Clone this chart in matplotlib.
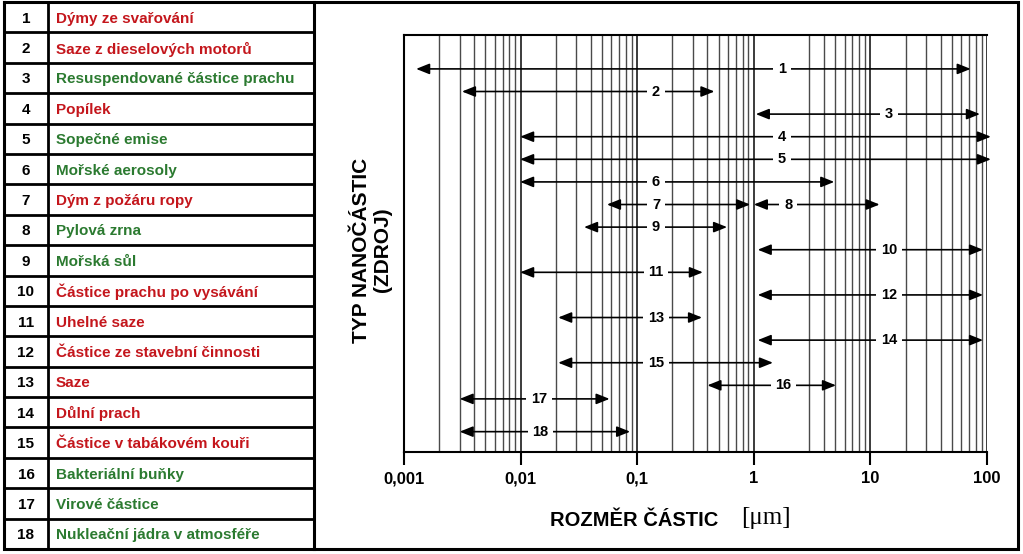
import matplotlib
matplotlib.use("Agg")
import matplotlib.pyplot as plt

# ---------------- data ----------------
numbers = list(range(1, 19))
names = [
    "Dýmy ze svařování", "Saze z dieselových motorů", "Resuspendované částice prachu",
    "Popílek", "Sopečné emise", "Mořské aerosoly", "Dým z požáru ropy", "Pylová zrna",
    "Mořská sůl", "Částice prachu po vysávání", "Uhelné saze", "Částice ze stavební činnosti",
    "Saze", "Důlní prach", "Částice v tabákovém kouři", "Bakteriální buňky",
    "Virové částice", "Nukleační jádra v atmosféře",
]
name_groups = ["r", "r", "g", "r", "g", "g", "r", "g", "g", "r", "r", "r", "r", "r", "r", "g", "g", "g"]

arrow_labels = ["1", "2", "3", "4", "5", "6", "7", "8", "9", "10", "11", "12", "13", "14", "15", "16", "17", "18"]
arrow_rows = [0, 1, 2, 3, 4, 5, 6, 6, 7, 8, 9, 10, 11, 12, 13, 14, 14.6, 16.05]
size_min = [0.00127, 0.00314, 1.04, 0.0099, 0.0099, 0.0099, 0.055, 1.0, 0.035, 1.08, 0.0099, 1.08, 0.021, 1.08, 0.021, 0.40, 0.0030, 0.0030]
size_max = [72.5, 0.46, 87, 108, 108, 4.9, 0.93, 12, 0.59, 92.5, 0.366, 92.5, 0.36, 92.5, 1.46, 5.07, 0.058, 0.087]
label_pos = [1.75, 0.145, 14.5, 1.75, 1.75, 0.145, 0.145, 1.97, 0.145, 14.5, 0.145, 14.5, 0.145, 14.5, 0.145, 1.8, 0.0144, 0.0148]

major_ticks = [0.001, 0.01, 0.1, 1, 10, 100]
major_labels = ["0,001", "0,01", "0,1", "1", "10", "100"]
grid_lines = [0.002, 0.003, 0.004, 0.005, 0.006, 0.007, 0.008, 0.009,
              0.02, 0.03, 0.04, 0.05, 0.06, 0.07, 0.08, 0.09,
              0.2, 0.3, 0.4, 0.5, 0.6, 0.7, 0.8, 0.9,
              3, 4, 5, 6, 7, 8, 9,
              20, 30, 40, 50, 60, 70, 80, 90]

RED = "#c4161c"
GREEN = "#2b7a30"
BOLD = ["Liberation Sans", "DejaVu Sans"]

W, H = 1023, 554
fig = plt.figure(figsize=(W / 100, H / 100), dpi=100)

# ---------------- frame & table (pixel coordinates) ----------------
bg = fig.add_axes([0, 0, 1, 1])
bg.set_xlim(0, W)
bg.set_ylim(H, 0)
bg.axis("off")

left, right, top, bottom = 4, 1018, 2, 549
div_x, col_x = 314, 48
bg.plot([left, right, right, left, left], [top, top, bottom, bottom, top], color="black", lw=2.2, solid_joinstyle="miter")
bg.plot([div_x, div_x], [top, bottom], color="black", lw=2.2)
bg.plot([col_x, col_x], [top, bottom], color="black", lw=2.0)
row_h = (bottom - top) / len(names)
for i in range(1, len(names)):
    y = top + i * row_h
    bg.plot([left, div_x], [y, y], color="black", lw=2.0)
for i, (n, name, g) in enumerate(zip(numbers, names, name_groups)):
    yc = top + (i + 0.55) * row_h
    bg.text(26, yc, str(n), ha="center", va="center", fontsize=11, fontweight="bold",
            family=BOLD, color="black")
    bg.text(56, yc, name, ha="left", va="center", fontsize=11, fontweight="bold",
            family=BOLD, color=RED if g == "r" else GREEN)

# axis titles
bg.text(372, 250, "TYP NANOČÁSTIC\n(ZDROJ)", rotation=90, ha="center", va="center",
        fontsize=15, fontweight="bold", family=BOLD, linespacing=1.1, multialignment="center")
bg.text(634, 520, "ROZMĚR ČÁSTIC", ha="center", va="center", fontsize=14.5,
        fontweight="bold", family=BOLD)
bg.text(766, 518, "[μm]", ha="center", va="center", fontsize=18,
        family=["Liberation Serif", "DejaVu Serif"])

# ---------------- main chart ----------------
ax_l, ax_r, ax_t, ax_b = 404, 987, 35, 452
ax = fig.add_axes([ax_l / W, (H - ax_b) / H, (ax_r - ax_l) / W, (ax_b - ax_t) / H])
ax.set_xscale("log")
ax.set_xlim(major_ticks[0], major_ticks[-1])
ax.set_ylim(16.95, -1.5)
ax.patch.set_alpha(0)

ax.vlines(grid_lines, -1.5, 16.95, colors="#4a4a4a", lw=1.0, zorder=1)
ax.vlines(major_ticks[1:], -1.5, 16.95, colors="#1a1a1a", lw=1.2, zorder=1)

for s in ["left", "top", "bottom"]:
    ax.spines[s].set_color("black")
    ax.spines[s].set_linewidth(1.5)
ax.spines["right"].set_visible(False)

ax.set_xticks(major_ticks)
ax.set_xticklabels(major_labels, fontsize=12, fontweight="bold", family=BOLD)
ax.xaxis.set_minor_locator(matplotlib.ticker.NullLocator())
ax.tick_params(axis="x", direction="out", length=9, width=1.5, pad=5)
ax.set_yticks([])

for lab, r, x0, x1, xl in zip(arrow_labels, arrow_rows, size_min, size_max, label_pos):
    ax.annotate("", xy=(x1, r), xytext=(x0, r),
                arrowprops=dict(arrowstyle="<|-|>,head_length=0.4,head_width=0.16",
                                mutation_scale=20, color="black", lw=1.2,
                                shrinkA=0, shrinkB=0),
                annotation_clip=False, zorder=3)
    ax.text(xl, r, lab, ha="center", va="center", fontsize=10.5, fontweight="bold",
            family=BOLD, zorder=4,
            bbox=dict(boxstyle="square,pad=0.33", fc="white", ec="none"))

fig.savefig("out.png", dpi=100)
